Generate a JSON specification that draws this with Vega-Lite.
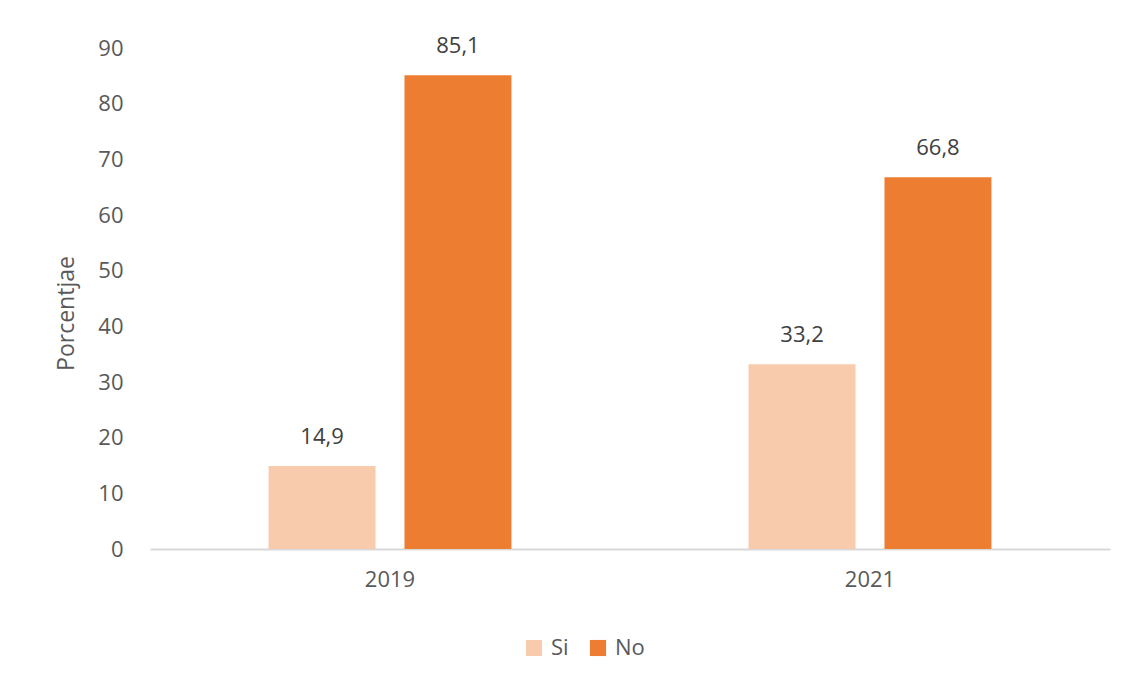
{
  "$schema": "https://vega.github.io/schema/vega-lite/v6.json",
  "width": 960,
  "height": 501,
  "autosize": {"type": "none"},
  "padding": {"left": 150, "top": 48, "right": 22, "bottom": 137},
  "background": "white",
  "config": {
    "view": {"stroke": null},
    "font": "Open Sans",
    "locale": {"number": {"decimal": ",", "thousands": ".", "grouping": [3], "currency": ["", " €"]}}
  },
  "data": {
    "values": [
      {"year": "2019", "resp": "Si", "value": 14.9},
      {"year": "2019", "resp": "No", "value": 85.1},
      {"year": "2021", "resp": "Si", "value": 33.2},
      {"year": "2021", "resp": "No", "value": 66.8}
    ]
  },
  "encoding": {
    "x": {
      "field": "year", "type": "nominal",
      "scale": {"paddingInner": 0.494, "paddingOuter": 0.247},
      "axis": {"title": null, "labelAngle": 0, "labelFontSize": 22, "labelColor": "#595959", "labelPadding": 20, "ticks": false, "domainColor": "#d9d9d9", "domainWidth": 2}
    },
    "xOffset": {
      "field": "resp", "type": "nominal", "sort": ["Si", "No"],
      "scale": {"paddingInner": 0.213, "paddingOuter": 0}
    },
    "y": {
      "field": "value", "type": "quantitative",
      "scale": {"domain": [0, 90], "nice": false},
      "axis": {"title": "Porcentjae", "titleFontSize": 23, "titleFontWeight": "normal", "titleColor": "#595959", "titlePadding": 19, "titleY": 265, "values": [0,10,20,30,40,50,60,70,80,90], "labelFontSize": 22, "labelColor": "#595959", "labelPadding": 27, "ticks": false, "domain": false, "grid": false, "format": "d"}
    }
  },
  "layer": [
    {
      "mark": {"type": "bar"},
      "encoding": {
        "color": {
          "field": "resp", "type": "nominal", "sort": ["Si", "No"],
          "scale": {"domain": ["Si", "No"], "range": ["#F8CBAD", "#ED7D31"]},
          "legend": {"title": null, "orient": "none", "direction": "horizontal", "legendX": 373, "legendY": 589, "symbolType": "square", "symbolSize": 260, "symbolStrokeWidth": 0, "labelFontSize": 22, "labelColor": "#595959", "columnPadding": 18, "labelOffset": 6}
        }
      }
    },
    {
      "mark": {"type": "text", "dy": -29, "fontSize": 22, "color": "#404040"},
      "encoding": {
        "text": {"field": "value", "type": "quantitative", "format": ".1f"}
      }
    }
  ]
}
